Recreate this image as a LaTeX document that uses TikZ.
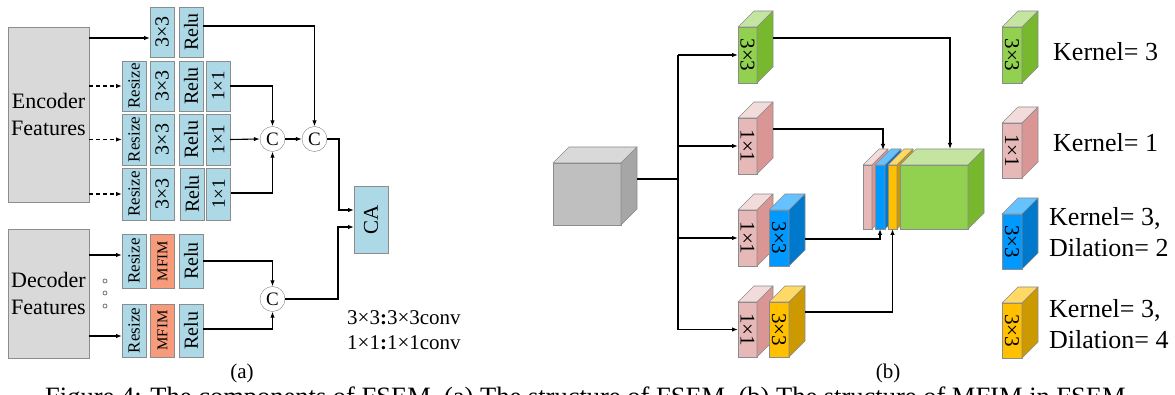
\documentclass[tikz,border=0pt]{standalone}
\usepackage{fontspec}
\setmainfont{Liberation Serif}
\usetikzlibrary{arrows.meta,calc}
\definecolor{lblue}{HTML}{ADD8E6}
\definecolor{mfim}{HTML}{F79B7B}
\definecolor{encgray}{HTML}{D9D9D9}
\definecolor{gfront}{HTML}{92D050}
\definecolor{gtop}{HTML}{C4E59F}
\definecolor{gside}{HTML}{77B82E}
\definecolor{pfront}{HTML}{E6B8B7}
\definecolor{ptop}{HTML}{F2DCDB}
\definecolor{pside}{HTML}{D99694}
\definecolor{bfront}{HTML}{0099FF}
\definecolor{btop}{HTML}{66C2FF}
\definecolor{bside}{HTML}{0078CC}
\definecolor{yfront}{HTML}{FFC000}
\definecolor{ytop}{HTML}{FFD966}
\definecolor{yside}{HTML}{CC9900}
\definecolor{kfront}{HTML}{BFBFBF}
\definecolor{ktop}{HTML}{D9D9D9}
\definecolor{kside}{HTML}{A6A6A6}
\newcommand{\fsz}[2]{\fontsize{#1}{#2}\selectfont}
\tikzset{
  ablk/.style={draw=black!45, fill=lblue, rotate=90, inner sep=0pt, outer sep=0pt, minimum height=24pt},
  fbox/.style={draw=black!45, fill=encgray, inner sep=0pt, outer sep=0pt, align=center, font=\fsz{22}{27}},
  cat/.style={circle, draw=black!50, fill=white, minimum size=25pt, inner sep=0pt, font=\fsz{19}{19}},
  arr/.style={line width=1.1pt, -{Latex[length=6pt,width=4.5pt]}},
  darr/.style={arr, dash pattern=on 4pt off 3pt},
  ln/.style={line width=1.1pt},
  cubef/.style={draw=black!45, line width=0.6pt, inner sep=0pt, outer sep=0pt},
  cubeedge/.style={draw=black!45, line width=0.6pt, line join=round},
  lgd/.style={anchor=west, align=left, inner sep=0pt, font=\fsz{26}{31}},
  sublbl/.style={inner sep=0pt, font=\fsz{21}{21}}
}
\newcommand{\cuboid}[9]{%
  \node[cubef, fill=#6, minimum width=#4pt, minimum height=#5pt, anchor=north west] (#1) at (#2,#3) {};
  \filldraw[cubeedge, fill=#7] (#1.north west) -- ++(16,-16) -- ++(#4,0) -- (#1.north east) -- cycle;
  \filldraw[cubeedge, fill=#8] (#1.north east) -- ++(16,-16) -- ++(0,#5) -- (#1.south east) -- cycle;
  \ifx\relax#9\relax\else\node[rotate=-90, inner sep=0pt, font=\fsz{21}{21}] (#1-t) at (#1) {#9};\fi
}
\begin{document}
\begin{tikzpicture}[x=1pt,y=-1pt]
\useasboundingbox (0,0) rectangle (1175,395);
% ---------------- (a) ----------------
\node[fbox, minimum width=81pt, minimum height=175pt] (enc) at (48.5,114.5) {Encoder\\Features};
\node[fbox, minimum width=81pt, minimum height=129pt] (dec) at (48.5,293.5) {Decoder\\Features};
% top row
\node[ablk, minimum width=50pt, font=\fsz{20}{20}] (t33) at (162,32) {3×3};
\node[ablk, minimum width=50pt, font=\fsz{20}{20}] (trl) at (191,32) {Relu};
% row 1
\node[ablk, minimum width=50pt, font=\fsz{17}{17}] (r1rs) at (134,86) {Resize};
\node[ablk, minimum width=50pt, font=\fsz{20}{20}] (r133) at (162,86) {3×3};
\node[ablk, minimum width=50pt, font=\fsz{20}{20}] (r1rl) at (191,86) {Relu};
\node[ablk, minimum width=50pt, font=\fsz{19}{19}] (r111) at (218,86) {1×1};
% row 2
\node[ablk, minimum width=51pt, font=\fsz{17}{17}] (r2rs) at (134,139.5) {Resize};
\node[ablk, minimum width=51pt, font=\fsz{20}{20}] (r233) at (162,139.5) {3×3};
\node[ablk, minimum width=51pt, font=\fsz{20}{20}] (r2rl) at (191,139.5) {Relu};
\node[ablk, minimum width=51pt, font=\fsz{19}{19}] (r211) at (218,139.5) {1×1};
% row 3
\node[ablk, minimum width=52pt, font=\fsz{17}{17}] (r3rs) at (134,194) {Resize};
\node[ablk, minimum width=52pt, font=\fsz{20}{20}] (r333) at (162,194) {3×3};
\node[ablk, minimum width=52pt, font=\fsz{20}{20}] (r3rl) at (192,194) {Relu};
\node[ablk, minimum width=52pt, font=\fsz{19}{19}] (r311) at (218.5,194) {1×1};
% decoder rows
\node[ablk, minimum width=54pt, font=\fsz{17}{17}] (d1rs) at (134,261) {Resize};
\node[ablk, minimum width=54pt, font=\fsz{15}{15}, fill=mfim] (d1mf) at (162.5,261) {MFIM};
\node[ablk, minimum width=54pt, font=\fsz{20}{20}] (d1rl) at (191,261) {Relu};
\node[ablk, minimum width=53pt, font=\fsz{17}{17}] (d2rs) at (134,330.5) {Resize};
\node[ablk, minimum width=53pt, font=\fsz{15}{15}, fill=mfim] (d2mf) at (162.5,330.5) {MFIM};
\node[ablk, minimum width=53pt, font=\fsz{20}{20}] (d2rl) at (191,330.5) {Relu};
% dots
\node[circle, draw=black!70, line width=0.6pt, minimum size=4pt, inner sep=0pt] (dt1) at (105,281) {};
\node[circle, draw=black!70, line width=0.6pt, minimum size=4pt, inner sep=0pt] (dt2) at (105,293) {};
\node[circle, draw=black!70, line width=0.6pt, minimum size=4pt, inner sep=0pt] (dt3) at (105,306) {};
% concat circles
\node[cat] (c1) at (272.5,139) {C};
\node[cat] (c2) at (314.5,139) {C};
\node[cat] (c3) at (272.5,299) {C};
% CA
\node[ablk, minimum width=67pt, minimum height=34pt, font=\fsz{21}{21}] (CA) at (371,219.5) {CA};
\coordinate (ja) at (339,0);
\coordinate (jb) at (338,0);
% arrows (a)
\draw[arr] ([yshift=-6pt]t33.north -| enc.east) -- ([yshift=-6pt]t33.north);
\draw[darr] (r1rs.north -| enc.east) -- (r1rs.north);
\draw[darr] (r2rs.north -| enc.east) -- (r2rs.north);
\draw[darr] (r3rs.north -| enc.east) -- (r3rs.north);
\draw[arr] ([yshift=6pt]trl.south) -| (c2.north);
\draw[arr] (r111.south) -| (c1.north);
\draw[arr] (r211.south) -- (c1.west);
\draw[arr] ([yshift=1pt]r311.south) -| (c1.south);
\draw[arr] (c1.east) -- (c2.west);
\draw[arr] (c2.east) -- (c2.east -| ja) |- ([yshift=9.5pt]CA.north);
\draw[arr] ([yshift=6pt]d1rs.north -| dec.east) -- ([yshift=6pt]d1rs.north);
\draw[arr] ([yshift=-5.5pt]d2rs.north -| dec.east) -- ([yshift=-5.5pt]d2rs.north);
\draw[arr] (d1rl.south) -| (c3.north);
\draw[arr] ([yshift=1.5pt]d2rl.south) -| (c3.south);
\draw[arr] (c3.east) -- (c3.east -| jb) |- ([yshift=-7.5pt]CA.north);
% legend (a)
\node[anchor=west, inner sep=0pt, font=\fsz{21}{25}, align=left] (la) at (347,330.5) {3×3\textbf{:}3×3conv\\1×1\textbf{:}1×1conv};
\node[sublbl] (capa) at (242,373) {(a)};
% ---------------- (b) ----------------
\cuboid{gc}{553}{163}{68}{62}{kfront}{ktop}{kside}{}
\cuboid{g1}{738}{27}{19}{56}{gfront}{gtop}{gside}{3×3}
\cuboid{p2}{738}{118}{19}{56}{pfront}{ptop}{pside}{1×1}
\cuboid{p3}{738}{210}{19}{56}{pfront}{ptop}{pside}{1×1}
\cuboid{b3}{769}{210}{20}{56}{bfront}{btop}{bside}{3×3}
\cuboid{p4}{738}{302}{19}{55}{pfront}{ptop}{pside}{1×1}
\cuboid{y4}{769}{302}{20}{55}{yfront}{ytop}{yside}{3×3}
% stack
\cuboid{sp}{863}{165}{9}{64}{pfront}{ptop}{pside}{}
\cuboid{sb}{875}{165}{10}{64}{bfront}{btop}{bside}{}
\cuboid{sy}{888}{165}{9}{64}{yfront}{ytop}{yside}{}
\cuboid{sg}{900}{165}{68}{64}{gfront}{gtop}{gside}{}
% legend cubes
\cuboid{lg}{1002}{27}{20}{56}{gfront}{gtop}{gside}{3×3}
\cuboid{lp}{1002}{123}{20}{55}{pfront}{ptop}{pside}{1×1}
\cuboid{lb}{1002}{214}{20}{55}{bfront}{btop}{bside}{3×3}
\cuboid{ly}{1002}{303}{20}{55}{yfront}{ytop}{yside}{3×3}
\node[lgd] (t1) at (1053,52) {Kernel= 3};
\node[lgd] (t2) at (1053,143) {Kernel= 1};
\node[lgd] (t3) at (1049,232.5) {Kernel= 3,\\Dilation= 2};
\node[lgd] (t4) at (1049,324) {Kernel= 3,\\Dilation= 4};
% connectors (b)
\coordinate (trunk) at (678,179);
\draw[ln] ([xshift=16pt,yshift=15pt]gc.east) -- (trunk);
\draw[ln] (trunk |- g1.west) -- (trunk |- p4.west);
\draw[arr] (trunk |- g1.west) -- (g1.west);
\draw[arr] (trunk |- p2.west) -- (p2.west);
\draw[arr] (trunk |- p3.west) -- (p3.west);
\draw[arr] (trunk |- p4.west) -- (p4.west);
\draw[arr] ([xshift=16pt,yshift=17pt]g1.east) -| ([xshift=50pt,yshift=16pt]sg.north west);
\draw[arr] ([xshift=16pt,yshift=17pt]p2.east) -| ([xshift=20pt,yshift=15pt]sp.north west);
\draw[arr] ([xshift=16pt,yshift=-1pt]b3.east) -| (sb.south);
\draw[arr] ([xshift=16pt,yshift=17.5pt]y4.east) -| (sy.south);
\node[sublbl] (capb) at (888,373) {(b)};
% caption (cut off at the lower edge, as in the source)
\node[anchor=base west, inner sep=0pt, font=\fsz{26.5}{26.5}] (fig) at (45,405) {Figure 4: The components of FSEM. (a) The structure of FSEM. (b) The structure of MFIM in FSEM.};
\end{tikzpicture}
\end{document}
